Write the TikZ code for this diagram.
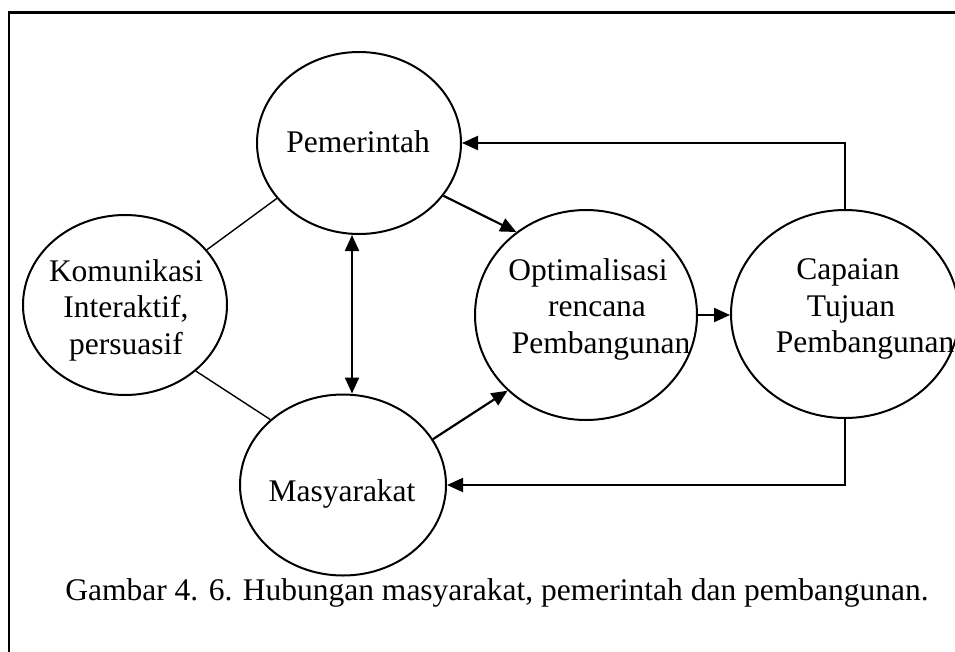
\documentclass[tikz,border=0pt]{standalone}
\usepackage{fontspec}
\setmainfont{Liberation Serif}
\usetikzlibrary{shapes.geometric,arrows.meta}
\begin{document}
\begin{tikzpicture}[x=1pt,y=-1pt,
  bubble/.style={draw, ellipse, line width=2pt, inner sep=0pt},
  lbl/.style={font=\fontsize{31.5}{36.5}\selectfont, align=center, inner sep=0pt},
  link/.style={line width=1.4pt},
  flow/.style={line width=2.2pt, -{Triangle[length=16pt,width=14pt]}},
  twoway/.style={line width=2.2pt, {Triangle[length=16pt,width=14pt]}-{Triangle[length=16pt,width=14pt]}},
]
\useasboundingbox (0,0) rectangle (955,651);
\clip (0,0) rectangle (955,651);

% outer frame
\draw[line width=2.5pt] (9,12.5) rectangle (975,675);

% the five ellipses
\node[bubble, minimum width=204pt, minimum height=182pt] (pem) at (359,143) {};
\node[bubble, minimum width=204pt, minimum height=180pt] (kom) at (125,305) {};
\node[bubble, minimum width=222pt, minimum height=210pt] (opt) at (586,315) {};
\node[bubble, minimum width=228pt, minimum height=208pt] (cap) at (845,314) {};
\node[bubble, minimum width=206pt, minimum height=181pt] (mas) at (343,485) {};

% their texts
\node[lbl, anchor=base] (pem-t) at (358,152) {Pemerintah};
\node[lbl] (kom-t) at (126,310) {Komunikasi\\Interaktif,\\persuasif};
\node[lbl] (opt-t) at (588,309) {Optimalisasi\\\hspace*{18pt}rencana\\\hspace*{26pt}Pembangunan};
\node[lbl] (cap-t) at (848,309) {Capaian\\\hspace*{6pt}Tujuan\\\hspace*{34pt}Pembangunan};
\node[lbl, anchor=base] (mas-t) at (342,501) {Masyarakat};

% caption
\node[lbl, anchor=base] (caption) at (497,600) {Gambar 4. 6. Hubungan masyarakat, pemerintah dan pembangunan.};

% plain links
\draw[link] (pem.-146) -- (kom.34);
\draw[link] (kom.-43) -- (mas.138);

% arrows
\draw[flow] (pem.-32) -- (opt.130);
\draw[flow] (mas.27) -- (opt.-136);
\draw[flow] (opt.east) -- (opt.east -| cap.west);
\coordinate (axis) at (352,0);
\draw[twoway] (pem.south -| axis) -- (mas.north -| axis);
\draw[flow, line width=2pt] (cap.north) |- (pem.east);
\draw[flow, line width=2pt] (cap.south) |- (mas.east);
\end{tikzpicture}
\end{document}
